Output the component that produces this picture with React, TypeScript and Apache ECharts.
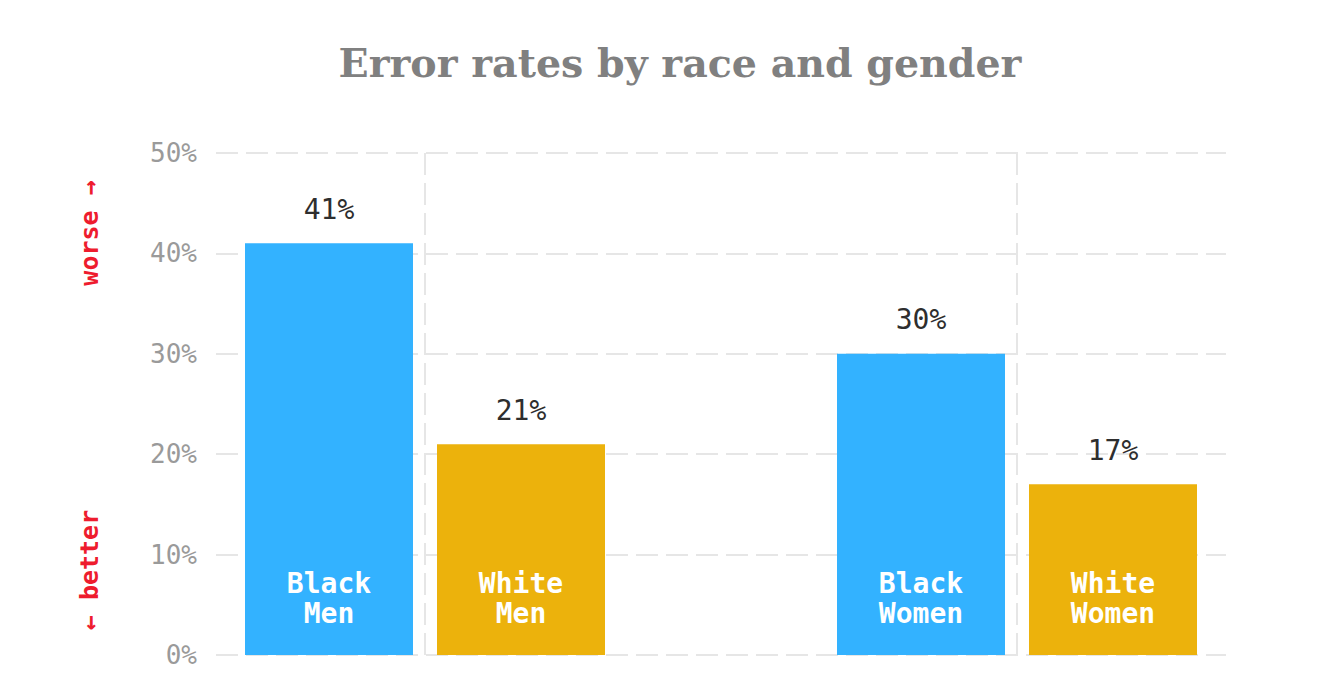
import React, { useEffect, useRef } from "react";
import * as echarts from "echarts";

const chartTitle = "Error rates by race and gender";
const groups = ["Men", "Women"];
const races = ["Black", "White"];
const blackValues = [41, 30];
const whiteValues = [21, 17];
const yTickMax = 50;
const yTickStep = 10;
const worseLabel = "worse →";
const betterLabel = "← better";

const BLUE = "#33b2ff";
const GOLD = "#ecb20c";
const GRID_COLOR = "#e6e6e6";
const MONO = '"DejaVu Sans Mono", "Liberation Mono", monospace';

export default function App() {
  const ref = useRef<HTMLDivElement>(null);

  useEffect(() => {
    document.body.style.margin = "0";
    if (!ref.current) return;
    const chart = echarts.init(ref.current, null, { renderer: "svg" });
    const seriesValues = [blackValues, whiteValues];
    const colors = [BLUE, GOLD];

    const barSeries: any[] = races.map((race, i) => ({
      name: race,
      type: "bar",
      xAxisIndex: 1,
      yAxisIndex: 1,
      data: seriesValues[i],
      barWidth: 168,
      barGap: "14.2857%",
      itemStyle: { color: colors[i] },
      label: {
        show: true,
        position: "top",
        distance: 20,
        formatter: "{c}%",
        color: "#2e2e2e",
        fontFamily: MONO,
        fontSize: 28,
        lineHeight: 28,
      },
      z: 3,
    }));

    const nameSeries: any[] = races.map((race, i) => ({
      name: race + " label",
      type: "bar",
      xAxisIndex: 2,
      yAxisIndex: 1,
      data: seriesValues[i],
      barWidth: 168,
      barGap: "14.2857%",
      itemStyle: { color: "rgba(0,0,0,0)" },
      label: {
        show: true,
        position: "insideBottom",
        distance: 27,
        formatter: (p: any) => `${race}\n${groups[p.dataIndex]}`,
        color: "#ffffff",
        fontFamily: MONO,
        fontWeight: "bold",
        fontSize: 28,
        lineHeight: 30,
      },
      silent: true,
      z: 4,
    }));

    const dividerSeries: any = {
      name: "dividers",
      type: "line",
      xAxisIndex: 1,
      yAxisIndex: 1,
      data: blackValues,
      showSymbol: false,
      silent: true,
      lineStyle: { opacity: 0 },
      z: 1,
      markLine: {
        silent: true,
        symbol: "none",
        label: { show: false },
        lineStyle: { color: GRID_COLOR, type: [22, 8], width: 2 },
        data: groups.map((g) => ({ xAxis: g })),
        z: 1,
      },
    };

    chart.setOption({
      animation: false,
      backgroundColor: "#ffffff",
      grid: [
        { left: 216, right: 111, top: 153, bottom: 45 },
        { left: 129, right: 24, top: 153, bottom: 45 },
      ],
      xAxis: [
        { gridIndex: 0, type: "value", min: 0, max: 1, show: false },
        { gridIndex: 1, type: "category", data: groups, show: false },
        { gridIndex: 1, type: "category", data: groups, show: false },
      ],
      yAxis: [
        {
          gridIndex: 0,
          type: "value",
          min: 0,
          max: yTickMax,
          interval: yTickStep,
          axisLine: { show: false },
          axisTick: { show: false },
          axisLabel: {
            formatter: "{value}%",
            color: "#9a9a9a",
            fontFamily: MONO,
            fontSize: 26,
            margin: 19,
          },
          splitLine: {
            show: true,
            lineStyle: { color: GRID_COLOR, type: [22, 8], width: 2 },
          },
        },
        { gridIndex: 1, type: "value", min: 0, max: yTickMax, show: false },
      ],
      graphic: [
        {
          type: "text",
          x: 680,
          y: 63,
          style: {
            text: chartTitle,
            textAlign: "center",
            textVerticalAlign: "middle",
            fill: "#808080",
            font: 'bold 39.5px "DejaVu Serif"',
          },
        },
        {
          type: "text",
          x: 89,
          y: 233,
          rotation: Math.PI / 2,
          style: {
            text: worseLabel,
            textAlign: "center",
            textVerticalAlign: "middle",
            fill: "#ee1c2e",
            font: 'bold 25px "DejaVu Sans Mono"',
          },
        },
        {
          type: "text",
          x: 89,
          y: 570,
          rotation: Math.PI / 2,
          style: {
            text: betterLabel,
            textAlign: "center",
            textVerticalAlign: "middle",
            fill: "#ee1c2e",
            font: 'bold 25px "DejaVu Sans Mono"',
          },
        },
      ],
      series: [dividerSeries, ...barSeries, ...nameSeries],
    });

    return () => chart.dispose();
  }, []);

  return <div ref={ref} style={{ width: 1337, height: 700 }} />;
}
